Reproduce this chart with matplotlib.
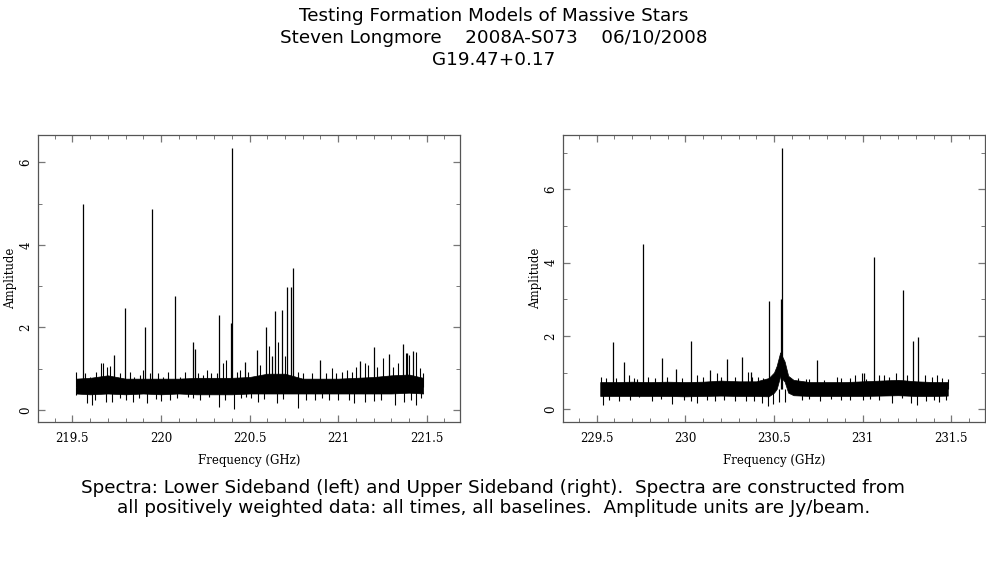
import matplotlib
matplotlib.use("Agg")
import matplotlib.pyplot as plt
from matplotlib.ticker import MultipleLocator, FormatStrFormatter

## lower sideband (left panel): noise core, spectral lines, noise spikes / dips
lsb_nodes = [219.52, 219.60, 219.70, 219.80, 219.90, 220.00, 220.10, 220.20, 220.30,
             220.40, 220.50, 220.60, 220.70, 220.80, 220.90, 221.00, 221.10, 221.20,
             221.30, 221.40, 221.48]
lsb_lo = [0.40, 0.38, 0.40, 0.38, 0.40, 0.38, 0.40, 0.38, 0.38,
          0.38, 0.40, 0.40, 0.40, 0.40, 0.40, 0.40, 0.40, 0.40,
          0.40, 0.42, 0.40]
lsb_hi = [0.76, 0.78, 0.84, 0.76, 0.76, 0.76, 0.76, 0.78, 0.78,
          0.78, 0.80, 0.88, 0.88, 0.76, 0.76, 0.76, 0.78, 0.80,
          0.84, 0.86, 0.78]
lsb_line_freq = [219.562, 219.735, 219.799, 219.910, 219.951, 220.080, 220.179, 220.190,
                 220.330, 220.395, 220.400, 220.476, 220.540, 220.593, 220.625, 220.642,
                 220.682, 220.710, 220.734, 220.745, 220.898, 221.124, 221.200, 221.285,
                 221.368, 221.390, 221.425]
lsb_line_amp = [4.99, 1.33, 2.46, 2.02, 4.88, 2.76, 1.64, 1.48,
                2.30, 2.10, 6.34, 1.17, 1.45, 2.02, 1.31, 2.40,
                2.42, 2.99, 2.99, 3.45, 1.21, 1.18, 1.53, 1.35,
                1.61, 1.38, 1.43]
lsb_spike_freq = [219.520, 219.572, 219.600, 219.634, 219.660, 219.675, 219.694, 219.710,
                  219.770, 219.826, 219.850, 219.880, 219.900, 219.940, 219.985, 220.010,
                  220.040, 220.108, 220.135, 220.210, 220.240, 220.258, 220.285, 220.315,
                  220.349, 220.367, 220.428, 220.445, 220.493, 220.560, 220.610, 220.663,
                  220.700, 220.775, 220.800, 220.850, 220.930, 220.964, 220.990, 221.020,
                  221.050, 221.080, 221.100, 221.150, 221.170, 221.220, 221.255, 221.310,
                  221.340, 221.385, 221.400, 221.438, 221.460, 221.480]
lsb_spike_amp = [0.93, 0.89, 0.81, 0.93, 1.13, 1.13, 1.05, 1.06,
                 0.89, 0.93, 0.81, 0.85, 0.97, 0.89, 0.89, 0.81,
                 0.93, 0.81, 0.93, 0.89, 0.85, 0.97, 0.89, 0.89,
                 1.13, 1.20, 0.93, 0.97, 0.93, 1.10, 1.55, 1.65,
                 1.30, 0.93, 0.89, 0.89, 0.89, 1.01, 0.90, 0.93,
                 0.97, 0.93, 1.05, 1.13, 1.09, 1.05, 1.25, 1.05,
                 1.13, 1.37, 1.33, 1.41, 1.01, 0.89]
lsb_dip_freq = [219.520, 219.580, 219.610, 219.630, 219.690, 219.725, 219.770, 219.800,
                219.840, 219.875, 219.920, 219.970, 220.000, 220.050, 220.090, 220.150,
                220.180, 220.220, 220.270, 220.328, 220.360, 220.410, 220.450, 220.480,
                220.510, 220.550, 220.580, 220.653, 220.690, 220.772, 220.820, 220.870,
                220.910, 220.950, 221.000, 221.060, 221.090, 221.150, 221.200, 221.240,
                221.320, 221.370, 221.410, 221.440, 221.470]
lsb_dip_amp = [0.36, 0.16, 0.12, 0.24, 0.20, 0.20, 0.28, 0.24,
               0.20, 0.28, 0.18, 0.26, 0.23, 0.24, 0.28, 0.32,
               0.28, 0.24, 0.32, 0.08, 0.24, 0.02, 0.28, 0.32,
               0.28, 0.20, 0.26, 0.16, 0.26, 0.04, 0.24, 0.24,
               0.28, 0.24, 0.25, 0.24, 0.16, 0.20, 0.23, 0.24,
               0.12, 0.20, 0.24, 0.12, 0.28]

## upper sideband (right panel)
usb_nodes = [229.52, 229.60, 229.70, 229.80, 229.90, 230.00, 230.10, 230.20, 230.30,
             230.40, 230.47, 230.50, 230.515, 230.535, 230.56, 230.58, 230.61, 230.70,
             230.80, 230.90, 231.00, 231.10, 231.20, 231.30, 231.40, 231.48]
usb_lo = [0.36, 0.36, 0.36, 0.36, 0.36, 0.35, 0.36, 0.37, 0.36,
          0.36, 0.35, 0.45, 0.55, 0.90, 0.75, 0.45, 0.38, 0.36,
          0.36, 0.36, 0.36, 0.37, 0.38, 0.36, 0.36, 0.37]
usb_hi = [0.74, 0.74, 0.75, 0.74, 0.75, 0.74, 0.75, 0.78, 0.76,
          0.76, 0.85, 1.00, 1.18, 1.55, 1.30, 0.91, 0.80, 0.74,
          0.74, 0.74, 0.76, 0.78, 0.80, 0.76, 0.74, 0.74]
usb_line_freq = [229.594, 229.652, 229.761, 229.867, 229.946, 230.030, 230.140, 230.237,
                 230.320, 230.370, 230.472, 230.540, 230.547, 230.741, 231.010, 231.066,
                 231.226, 231.286, 231.314]
usb_line_amp = [1.84, 1.28, 4.50, 1.39, 1.10, 1.86, 1.07, 1.38,
                1.42, 1.01, 2.95, 3.00, 7.12, 1.34, 1.00, 4.14,
                3.25, 1.87, 1.96]
usb_spike_freq = [229.524, 229.550, 229.610, 229.680, 229.710, 229.730, 229.790, 229.830,
                  229.895, 229.980, 230.067, 230.100, 230.180, 230.200, 230.280, 230.355,
                  230.375, 230.410, 230.440, 230.637, 230.680, 230.700, 230.780, 230.854,
                  230.880, 230.930, 230.957, 230.995, 231.020, 231.090, 231.120, 231.150,
                  231.190, 231.250, 231.350, 231.390, 231.420, 231.450, 231.480]
usb_spike_amp = [0.89, 0.85, 0.85, 0.94, 0.85, 0.82, 0.89, 0.85,
                 0.89, 0.85, 0.94, 0.89, 0.98, 0.89, 0.89, 1.02,
                 0.89, 0.89, 0.85, 0.85, 0.82, 0.82, 0.80, 0.89,
                 0.85, 0.85, 0.94, 0.98, 0.82, 0.94, 0.94, 0.89,
                 0.98, 0.94, 0.94, 0.89, 0.94, 0.85, 0.82]
usb_dip_freq = [229.537, 229.570, 229.625, 229.690, 229.740, 229.810, 229.860, 229.923,
                229.990, 230.030, 230.064, 230.120, 230.165, 230.220, 230.280, 230.340,
                230.390, 230.430, 230.464, 230.496, 230.530, 230.560, 230.656, 230.700,
                230.760, 230.820, 230.880, 230.930, 231.000, 231.040, 231.090, 231.164,
                231.220, 231.270, 231.305, 231.360, 231.400, 231.430, 231.470]
usb_dip_amp = [0.12, 0.25, 0.22, 0.25, 0.34, 0.22, 0.28, 0.15,
               0.25, 0.22, 0.17, 0.25, 0.22, 0.25, 0.22, 0.22,
               0.22, 0.17, 0.08, 0.15, 0.20, 0.20, 0.25, 0.28,
               0.22, 0.28, 0.25, 0.26, 0.25, 0.28, 0.25, 0.17,
               0.30, 0.17, 0.12, 0.22, 0.25, 0.20, 0.25]

title_lines = ["Testing Formation Models of Massive Stars",
               "Steven Longmore    2008A-S073    06/10/2008",
               "G19.47+0.17"]
caption = ("Spectra: Lower Sideband (left) and Upper Sideband (right).  Spectra are constructed from\n"
           "all positively weighted data: all times, all baselines.  Amplitude units are Jy/beam.")

W, H = 987, 567
fig = plt.figure(figsize=(W / 100, H / 100), dpi=100)


def draw_panel(ax, nodes, lo, hi, lfreq, lamp, sfreq, samp, dfreq, damp, xlim, ylim):
    base = 0.56
    ax.fill_between(nodes, lo, hi, color="k", lw=0.5)
    ax.vlines(sfreq, base, samp, color="k", lw=0.8)
    ax.vlines(dfreq, damp, base, color="k", lw=0.8)
    ax.vlines(lfreq, base, lamp, color="k", lw=0.9)
    ax.set_xlim(*xlim)
    ax.set_ylim(*ylim)
    ax.xaxis.set_major_locator(MultipleLocator(0.5))
    ax.xaxis.set_minor_locator(MultipleLocator(0.1))
    ax.yaxis.set_major_locator(MultipleLocator(2))
    ax.yaxis.set_minor_locator(MultipleLocator(1))
    ax.xaxis.set_major_formatter(FormatStrFormatter("%g"))
    ax.tick_params(which="both", direction="in", top=True, right=True, color="#777777")
    ax.tick_params(which="major", length=5, width=0.9)
    ax.tick_params(which="minor", length=3, width=0.7)
    ax.tick_params(axis="x", labelsize=8.5, pad=7)
    ax.tick_params(axis="y", labelsize=8.5, pad=4, labelrotation=90)
    for lab in ax.get_xticklabels() + ax.get_yticklabels():
        lab.set_family("DejaVu Serif")
    for lab in ax.get_yticklabels():
        lab.set_va("center")
    for sp in ax.spines.values():
        sp.set_color("#555555")
        sp.set_linewidth(0.9)
    ax.set_xlabel("Frequency (GHz)", family="DejaVu Serif", fontsize=8.5, labelpad=7)
    ax.set_ylabel("Amplitude", family="DejaVu Serif", fontsize=8.5, labelpad=2)


axL = fig.add_axes([38 / W, 1 - 422 / H, 422 / W, 287 / H])
draw_panel(axL, lsb_nodes, lsb_lo, lsb_hi, lsb_line_freq, lsb_line_amp,
           lsb_spike_freq, lsb_spike_amp, lsb_dip_freq, lsb_dip_amp,
           (219.306, 221.688), (-0.29, 6.66))

axR = fig.add_axes([563 / W, 1 - 422 / H, 422 / W, 287 / H])
draw_panel(axR, usb_nodes, usb_lo, usb_hi, usb_line_freq, usb_line_amp,
           usb_spike_freq, usb_spike_amp, usb_dip_freq, usb_dip_amp,
           (229.31, 231.69), (-0.35, 7.48))

for i, line in enumerate(title_lines):
    fig.text(0.5, 1 - (16 + 22 * i) / H, line, ha="center", va="center", fontsize=13.2)
fig.text(0.5, 1 - 498 / H, caption, ha="center", va="center", fontsize=13.2,
         linespacing=1.2)

fig.savefig("out.png", dpi=100)
